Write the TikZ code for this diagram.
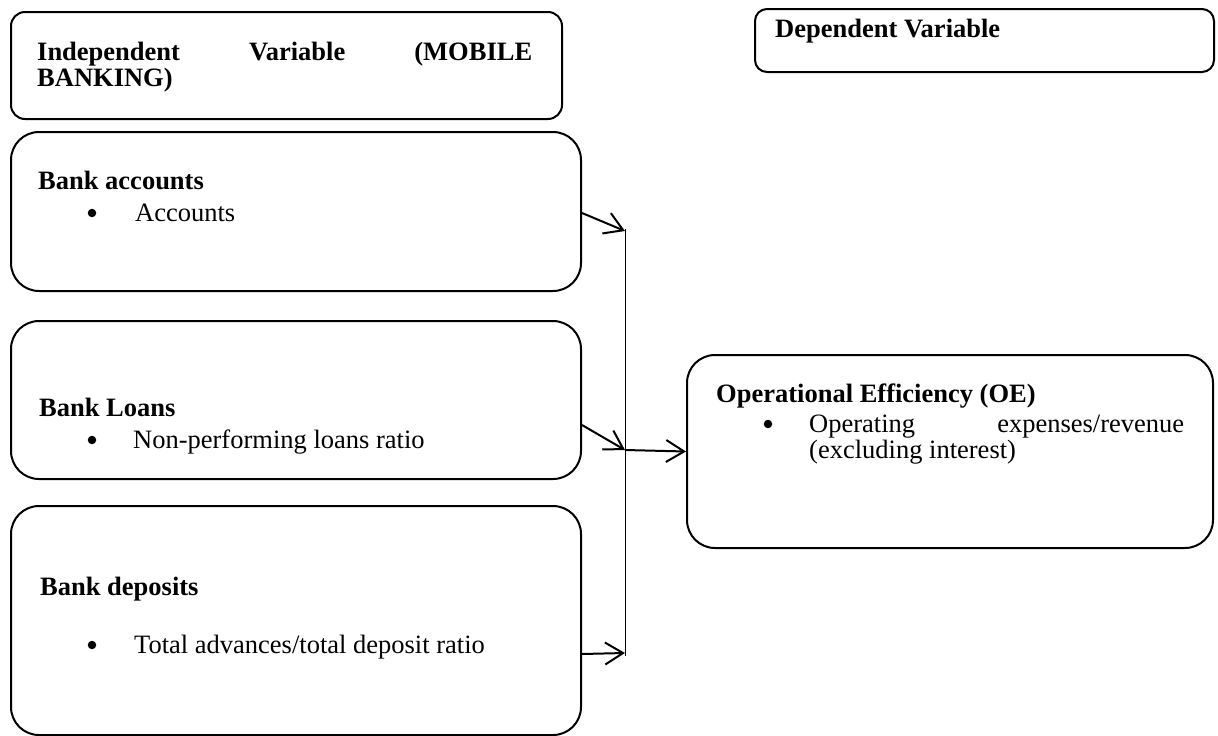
\documentclass[tikz,border=0pt]{standalone}
\usepackage{fontspec}
\setmainfont{Liberation Serif}
\usetikzlibrary{arrows.meta}
\tikzset{
  box/.style={draw, line width=2pt, rectangle, anchor=north west, inner sep=0pt},
  txt/.style={anchor=base west, inner sep=0pt, font=\fontsize{26.5}{26}\selectfont},
  ttl/.style={txt, font=\fontsize{26.5}{26}\selectfont\bfseries},
  bul/.style={circle, fill=black, draw=none, inner sep=0pt, minimum size=8.5pt},
  arr/.style={line width=2pt, -{Straight Barb[length=18pt,width=22pt]}},
  junction/.style={line width=1pt}
}
\begin{document}
\begin{tikzpicture}[x=1pt,y=-1pt]
\useasboundingbox (0,0) rectangle (1218,736);
% boxes
\node[box, rounded corners=14pt, minimum width=551pt, minimum height=107pt] (b1) at (10,11) {};
\node[box, rounded corners=12pt, minimum width=459pt, minimum height=63pt] (b2) at (754,8) {};
\node[box, rounded corners=28pt, minimum width=570pt, minimum height=159pt] (b3) at (10,131) {};
\node[box, rounded corners=28pt, minimum width=570pt, minimum height=158pt] (b4) at (10,320) {};
\node[box, rounded corners=28pt, minimum width=570pt, minimum height=229pt] (b5) at (10,505) {};
\node[box, rounded corners=28pt, minimum width=526pt, minimum height=193pt] (b6) at (686,354) {};
% texts
\node[ttl] (t1a) at (37,60) {\hbox to 495pt{Independent\hfill Variable\hfill (MOBILE}};
\node[ttl] (t1b) at (37,86) {BANKING)};
\node[ttl] (t2) at (775,37) {Dependent Variable};
\node[ttl] (t3) at (38,189) {Bank accounts};
\node[bul] (u3) at (92,213) {};
\node[txt] (i3) at (135,221) {Accounts};
\node[ttl] (t4) at (39,416) {Bank Loans};
\node[bul] (u4) at (92,440) {};
\node[txt] (i4) at (133,448) {Non-performing loans ratio};
\node[ttl] (t5) at (40,595) {Bank deposits};
\node[bul] (u5) at (92,645) {};
\node[txt] (i5) at (134,653) {Total advances/total deposit ratio};
\node[ttl] (t6) at (716,402) {Operational Efficiency (OE)};
\node[bul] (u6) at (768,424) {};
\node[txt] (i6a) at (809,432) {\hbox to 375pt{Operating\hfill expenses/revenue}};
\node[txt] (i6b) at (809,458) {(excluding interest)};
% junction
\coordinate (j1) at (625,231);
\coordinate (j2) at (625,450);
\coordinate (j3) at (625,653);
\coordinate (jt) at (625,229);
\coordinate (jb) at (625,656);
\draw[junction] (jt) -- (jb);
\draw[arr] ([yshift=-1.5pt]b3.east) -- (j1);
\draw[arr] ([yshift=-25pt]b4.east) -- (j2);
\draw[arr] ([yshift=-33.5pt]b5.east) -- (j3);
\draw[arr] (j2) -- (b6.west);
\end{tikzpicture}
\end{document}
